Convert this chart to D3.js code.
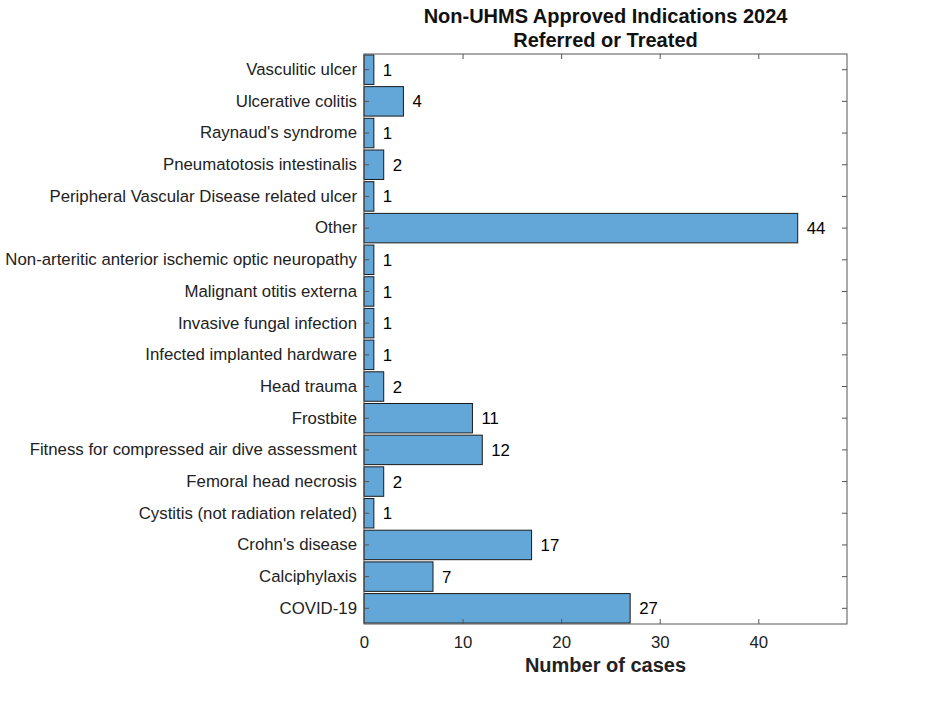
<!DOCTYPE html>
<html><head><meta charset="utf-8">
<script src="https://cdn.jsdelivr.net/npm/d3@7"></script>
<style>body{margin:0;background:#fff;} text{font-family:"Liberation Sans",Arial,Helvetica,sans-serif;}</style>
</head><body>
<svg id="chart" width="936" height="702"></svg>
<script>
const categories = ["Vasculitic ulcer","Ulcerative colitis","Raynaud's syndrome","Pneumatotosis intestinalis","Peripheral Vascular Disease related ulcer","Other","Non-arteritic anterior ischemic optic neuropathy","Malignant otitis externa","Invasive fungal infection","Infected implanted hardware","Head trauma","Frostbite","Fitness for compressed air dive assessment","Femoral head necrosis","Cystitis (not radiation related)","Crohn's disease","Calciphylaxis","COVID-19"];
const values = [1,4,1,2,1,44,1,1,1,1,2,11,12,2,1,17,7,27];
const xTicks = [0,10,20,30,40];
const titleLines = ["Non-UHMS Approved Indications 2024","Referred or Treated"];
const xLabel = "Number of cases";

const svg = d3.select("#chart");
const L = 364, R = 847, T = 54, B = 624;
const x = d3.scaleLinear().domain([0,49]).range([L,R]);
const y = d3.scaleBand().domain(categories).range([T,B]).paddingInner(0.07).paddingOuter(0.03);
const axisColor = "#555";
const fs = 16.8;

// bars
svg.append("g").selectAll("rect").data(categories).join("rect")
  .attr("x", x(0)).attr("y", d=>y(d))
  .attr("width", (d,i)=>x(values[i])-x(0)).attr("height", y.bandwidth())
  .attr("fill","#63a7d8").attr("stroke","#1a1a1a").attr("stroke-width",1);

// value labels
svg.append("g").selectAll("text").data(categories).join("text")
  .attr("x",(d,i)=>x(values[i])+9).attr("y",d=>y(d)+y.bandwidth()/2)
  .attr("dy","0.36em").attr("font-size",fs).attr("fill","#000")
  .text((d,i)=>values[i]);

// box
svg.append("rect").attr("x",L).attr("y",T).attr("width",R-L).attr("height",B-T)
  .attr("fill","none").attr("stroke",axisColor).attr("stroke-width",1);

// x axes (bottom and top, inward ticks)
const xb = svg.append("g").attr("transform",`translate(0,${B})`)
  .call(d3.axisBottom(x).tickValues(xTicks).tickSize(-5).tickPadding(12).tickFormat(d3.format("d")));
const xt = svg.append("g").attr("transform",`translate(0,${T})`)
  .call(d3.axisTop(x).tickValues(xTicks).tickSize(-5).tickFormat(""));
// y axes (left and right, inward ticks)
const yl = svg.append("g").attr("transform",`translate(${L},0)`)
  .call(d3.axisLeft(y).tickSize(-5).tickPadding(7));
const yr = svg.append("g").attr("transform",`translate(${R},0)`)
  .call(d3.axisRight(y).tickSize(-5).tickFormat(""));
[xb,xt,yl,yr].forEach(g=>{
  g.select(".domain").remove();
  g.selectAll(".tick line").attr("stroke",axisColor);
  g.selectAll(".tick text").attr("font-size",fs).attr("fill","#222")
   .attr("font-family","'Liberation Sans',Arial,sans-serif");
});

// title
svg.append("g").selectAll("text").data(titleLines).join("text")
  .attr("x",(L+R)/2).attr("y",(d,i)=>23+i*24).attr("text-anchor","middle")
  .attr("font-size",20).attr("font-weight","bold").attr("fill","#111").text(d=>d);

// x label
svg.append("text").attr("x",(L+R)/2).attr("y",672).attr("text-anchor","middle")
  .attr("font-size",20).attr("font-weight","bold").attr("fill","#222").text(xLabel);
</script>
</body></html>
